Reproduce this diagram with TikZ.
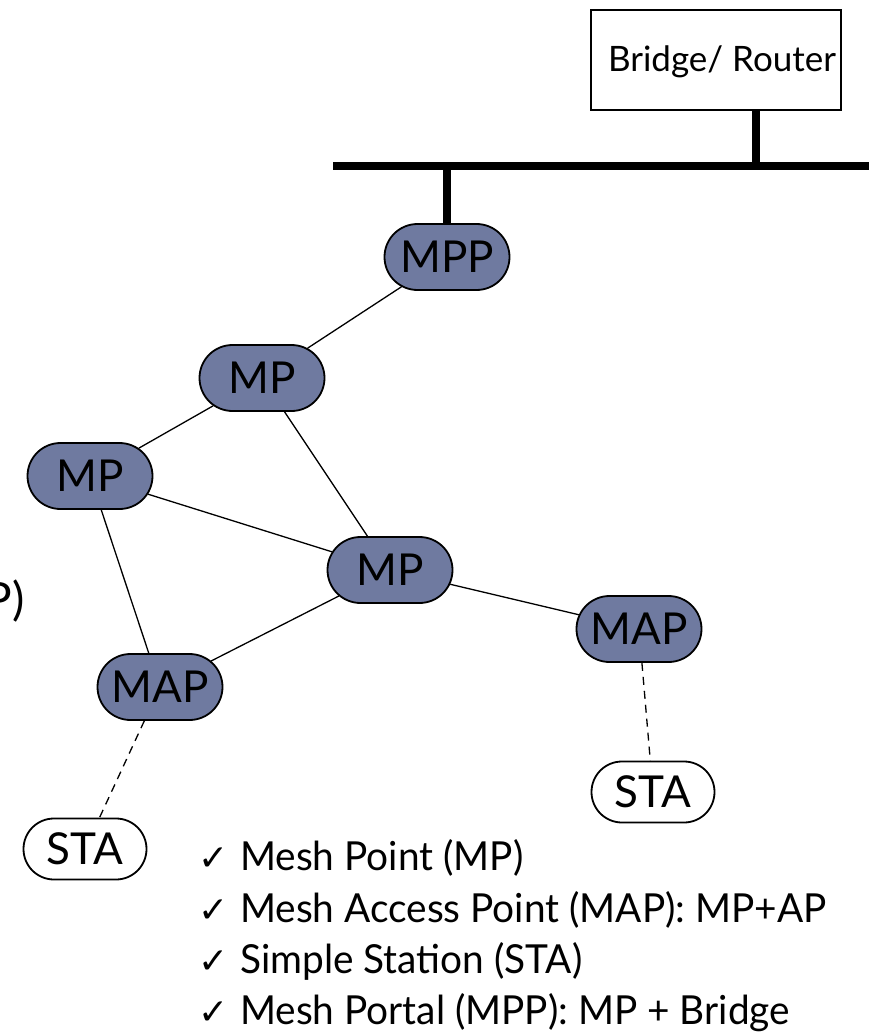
\documentclass[tikz,border=0pt]{standalone}
\usepackage{fontspec}
\setmainfont{Lato}
\newfontfamily\legendfont[FakeStretch=0.97]{Lato}
\newfontfamily\symfont{DejaVu Sans}
\usetikzlibrary{shapes.misc}
\definecolor{meshfill}{RGB}{111,122,160}
\begin{document}
\begin{tikzpicture}[x=1pt,y=-1pt,
  meshnode/.style={rounded rectangle, draw=black, line width=1.8pt, fill=meshfill,
    minimum width=125pt, minimum height=66pt, inner sep=0pt,
    font=\fontsize{44}{44}\selectfont},
  stanode/.style={meshnode, fill=white, minimum width=123pt, minimum height=61pt},
  boxnode/.style={draw=black, line width=1.8pt, minimum width=250pt, minimum height=100pt, inner sep=0pt},
  label/.style={inner sep=0pt, font=\fontsize{35}{35}\selectfont},
  link/.style={line width=1.3pt},
  wireless/.style={line width=1.3pt, dash pattern=on 8pt off 6pt},
  bus/.style={line width=8pt},
  item/.style={anchor=base west, inner sep=0pt, font=\legendfont\fontsize{40}{40}\selectfont},
  tick/.style={anchor=base west, inner sep=0pt, font=\symfont\fontsize{36}{36}\selectfont}]
\clip (0,0) rectangle (869,1032);

% bridge / router and the wired backbone
\node[boxnode] (br) at (716,60) {};
\node[label] (brtext) at (722,62) {Bridge/ Router};
\coordinate (busL) at (333,166);
\coordinate (busR) at (869,166);
\coordinate (brtap) at (756,110);
\draw[bus] (busL) -- (busR);
\draw[bus] (brtap) -- (brtap |- busL);

% mesh nodes
\node[meshnode] (mpp)  at (447,257) {MPP};
\node[meshnode] (mp1)  at (262,378) {MP};
\node[meshnode] (mp2)  at (90,476)  {MP};
\node[meshnode] (mp3)  at (390,570) {MP};
\node[meshnode] (mapr) at (639,629) {MAP};
\node[meshnode] (mapl) at (160,687) {MAP};
\node[stanode]  (star) at (653,792) {STA};
\node[stanode]  (stal) at (85,849)  {STA};

\draw[bus] (mpp.north) -- (mpp.north |- busL);

% mesh links
\draw[link] (mpp) -- (mp1);
\draw[link] (mp1) -- (mp2);
\draw[link] (mp1) -- (mp3);
\draw[link] (mp2) -- (mp3);
\draw[link] (mp2) -- (mapl);
\draw[link] (mp3) -- (mapl);
\draw[link] (mp3) -- (mapr);

% station associations
\draw[wireless] (mapr) -- (star);
\draw[wireless] (mapl) -- (stal);

% legend
\node[tick] (t1) at (198,870) {✓};
\node[item] (l1) at (240,870) {Mesh Point (MP)};
\node[tick] (t2) at (198,922) {✓};
\node[item] (l2) at (240,922) {Mesh Access Point (MAP): MP+AP};
\node[tick] (t3) at (198,973) {✓};
\node[item] (l3) at (240,973) {Simple Station (STA)};
\node[tick] (t4) at (198,1024) {✓};
\node[item] (l4) at (240,1024) {Mesh Portal (MPP): MP + Bridge};

% text running in from the left edge
\node[item, anchor=base east, font=\fontsize{46}{46}\selectfont] (frag) at (25,615) {P)};
\end{tikzpicture}
\end{document}
